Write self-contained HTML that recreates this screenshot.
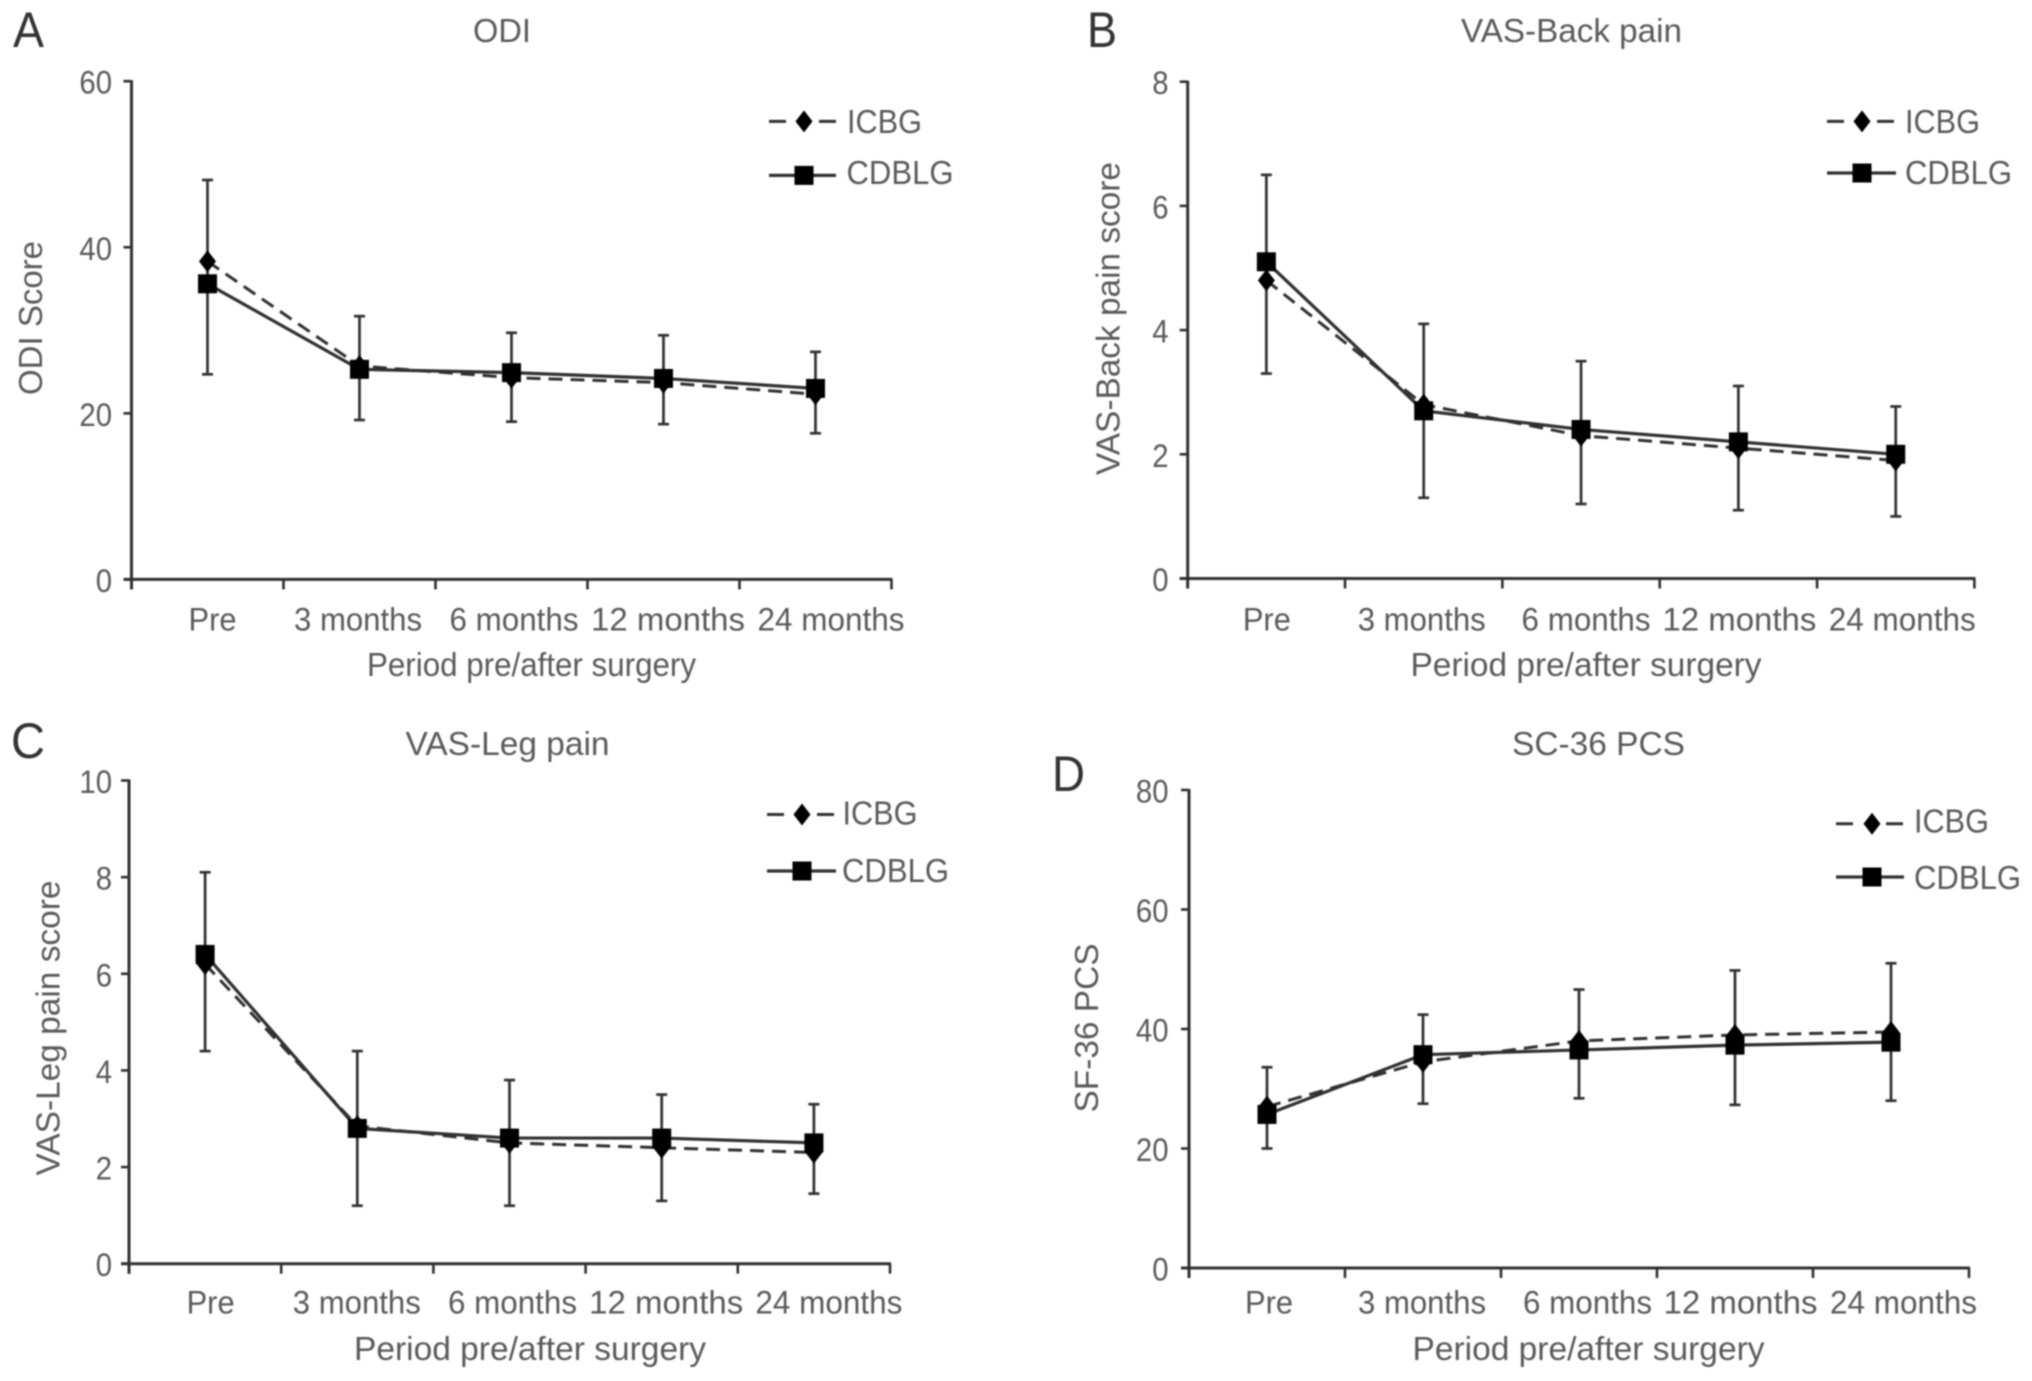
<!DOCTYPE html>
<html lang="en">
<head>
<meta charset="utf-8">
<title>Outcome scores before and after surgery</title>
<style>
  html, body { margin: 0; padding: 0; background: #fff; }
  body { width: 2032px; height: 1381px; overflow: hidden; }
  svg { display: block; filter: blur(0.7px); }
  text { font-family: "Liberation Sans", sans-serif; fill: #5a5a5a; }
  .panel-letter { font-size: 50px; fill: #333; }
  .chart-title { font-size: 33px; text-anchor: middle; }
  .axis-title { font-size: 33px; text-anchor: middle; }
  .legend-label { font-size: 33px; }
  .tick { font-size: 32px; }
</style>
</head>
<body>
<svg id="figure" xmlns="http://www.w3.org/2000/svg" width="2032" height="1381" viewBox="0 0 2032 1381">
  <rect width="2032" height="1381" fill="#fff"/>

  <g id="panel-a">
    <text class="panel-letter" x="13" y="47" textLength="31" lengthAdjust="spacingAndGlyphs">A</text>
    <text class="chart-title" x="502" y="42" textLength="58" lengthAdjust="spacingAndGlyphs">ODI</text>
    <text class="axis-title" transform="translate(42,318) rotate(-90)" textLength="154" lengthAdjust="spacingAndGlyphs">ODI Score</text>
    <text class="axis-title" x="531.5" y="676" textLength="329" lengthAdjust="spacingAndGlyphs">Period pre/after surgery</text>
    <text class="legend-label" x="847" y="133" textLength="75" lengthAdjust="spacingAndGlyphs">ICBG</text>
    <text class="legend-label" x="846.5" y="184" textLength="107" lengthAdjust="spacingAndGlyphs">CDBLG</text>
  </g>

  <g id="panel-b">
    <text class="panel-letter" x="1087" y="47" textLength="30" lengthAdjust="spacingAndGlyphs">B</text>
    <text class="chart-title" x="1571.5" y="42" textLength="221" lengthAdjust="spacingAndGlyphs">VAS-Back pain</text>
    <text class="axis-title" transform="translate(1119.5,318.5) rotate(-90)" textLength="313" lengthAdjust="spacingAndGlyphs">VAS-Back pain score</text>
    <text class="axis-title" x="1586" y="676" textLength="351" lengthAdjust="spacingAndGlyphs">Period pre/after surgery</text>
    <text class="legend-label" x="1905" y="133" textLength="75" lengthAdjust="spacingAndGlyphs">ICBG</text>
    <text class="legend-label" x="1905" y="184" textLength="107" lengthAdjust="spacingAndGlyphs">CDBLG</text>
  </g>

  <g id="panel-c">
    <text class="panel-letter" x="11" y="758" textLength="34" lengthAdjust="spacingAndGlyphs">C</text>
    <text class="chart-title" x="507.5" y="755" textLength="204" lengthAdjust="spacingAndGlyphs">VAS-Leg pain</text>
    <text class="axis-title" transform="translate(59.5,1028) rotate(-90)" textLength="295" lengthAdjust="spacingAndGlyphs">VAS-Leg pain score</text>
    <text class="axis-title" x="530" y="1360" textLength="352" lengthAdjust="spacingAndGlyphs">Period pre/after surgery</text>
    <text class="legend-label" x="842.5" y="824.5" textLength="75" lengthAdjust="spacingAndGlyphs">ICBG</text>
    <text class="legend-label" x="842" y="882" textLength="107" lengthAdjust="spacingAndGlyphs">CDBLG</text>
  </g>

  <g id="panel-d">
    <text class="panel-letter" x="1052" y="791" textLength="33" lengthAdjust="spacingAndGlyphs">D</text>
    <text class="chart-title" x="1598.5" y="755" textLength="173" lengthAdjust="spacingAndGlyphs">SC-36 PCS</text>
    <text class="axis-title" transform="translate(1098,1028) rotate(-90)" textLength="169" lengthAdjust="spacingAndGlyphs">SF-36 PCS</text>
    <text class="axis-title" x="1588.5" y="1360" textLength="352" lengthAdjust="spacingAndGlyphs">Period pre/after surgery</text>
    <text class="legend-label" x="1914" y="832.5" textLength="75" lengthAdjust="spacingAndGlyphs">ICBG</text>
    <text class="legend-label" x="1914" y="889" textLength="107" lengthAdjust="spacingAndGlyphs">CDBLG</text>
  </g>
</svg>

<script>
// Chart data
const categories = ['Pre', '3 months', '6 months', '12 months', '24 months'];

const odiTicks = [0, 20, 40, 60];
const odiIcbg = [38.3, 25.7, 24.3, 23.7, 22.3];
const odiCdblg = [35.6, 25.3, 24.9, 24.2, 23.0];
const odiErrHigh = [48.1, 31.7, 29.7, 29.4, 27.4];
const odiErrLow = [24.7, 19.2, 19.0, 18.7, 17.6];

const backTicks = [0, 2, 4, 6, 8];
const backIcbg = [4.8, 2.8, 2.3, 2.1, 1.9];
const backCdblg = [5.1, 2.7, 2.4, 2.2, 2.0];
const backErrHigh = [6.5, 4.1, 3.5, 3.1, 2.77];
const backErrLow = [3.3, 1.3, 1.2, 1.1, 1.0];

const legTicks = [0, 2, 4, 6, 8, 10];
const legIcbg = [6.2, 2.85, 2.5, 2.4, 2.3];
const legCdblg = [6.4, 2.8, 2.6, 2.6, 2.5];
const legErrHigh = [8.1, 4.4, 3.8, 3.5, 3.3];
const legErrLow = [4.4, 1.2, 1.2, 1.3, 1.45];

const pcsTicks = [0, 20, 40, 60, 80];
const pcsIcbg = [27.0, 34.5, 38.0, 39.0, 39.5];
const pcsCdblg = [25.7, 35.7, 36.5, 37.3, 37.8];
const pcsErrHigh = [33.6, 42.4, 46.6, 49.8, 51.0];
const pcsErrLow = [20.0, 27.5, 28.4, 27.3, 28.0];

// Per-panel layout (plot frame, legend keys, label placement)
const labelWidths = [48, 128, 129, 154, 147];
const panels = [
  { id: 'panel-a', key: 'odi', ticks: odiTicks, icbg: odiIcbg, cdblg: odiCdblg, hi: odiErrHigh, lo: odiErrLow,
    left: 131.5, right: 891.5, top: 81.2, bottom: 579.4, labelY: 630.5, tickRight: 112,
    labelShift: [5, -1.5, 2.5, 4.5, 15.5],
    legendX0: 769, legendX1: 836, legendMid: 804, legendY0: 121.4, legendY1: 175.4 },
  { id: 'panel-b', key: 'vas-back', ticks: backTicks, icbg: backIcbg, cdblg: backCdblg, hi: backErrHigh, lo: backErrLow,
    left: 1187.7, right: 1974.4, top: 81.7, bottom: 578.5, labelY: 630.5, tickRight: 1168.5,
    labelShift: [0.5, -2, 5, 1, 6.5],
    legendX0: 1827, legendX1: 1896, legendMid: 1862, legendY0: 121.4, legendY1: 173 },
  { id: 'panel-c', key: 'vas-leg', ticks: legTicks, icbg: legIcbg, cdblg: legCdblg, hi: legErrHigh, lo: legErrLow,
    left: 129, right: 890, top: 780.5, bottom: 1263.7, labelY: 1313.5, tickRight: 112,
    labelShift: [5.5, -0.5, 3, 4.5, 15],
    legendX0: 767, legendX1: 836, legendMid: 802, legendY0: 814.5, legendY1: 871 },
  { id: 'panel-d', key: 'sf-36-pcs', ticks: pcsTicks, icbg: pcsIcbg, cdblg: pcsCdblg, hi: pcsErrHigh, lo: pcsErrLow,
    left: 1189, right: 1969, top: 790, bottom: 1268, labelY: 1313.5, tickRight: 1168.5,
    labelShift: [2, -1, 8.5, 5.5, 12.5],
    legendX0: 1836, legendX1: 1904, legendMid: 1872, legendY0: 823.8, legendY1: 877 }
];

const SVG_NS = 'http://www.w3.org/2000/svg';
const INK = '#303030';

function make(tag, attrs, parent) {
  const el = document.createElementNS(SVG_NS, tag);
  for (const k in attrs) el.setAttribute(k, attrs[k]);
  parent.appendChild(el);
  return el;
}

function seg(parent, x1, y1, x2, y2, width, dash) {
  const a = { x1: x1, y1: y1, x2: x2, y2: y2, stroke: INK, 'stroke-width': width };
  if (dash) a['stroke-dasharray'] = dash;
  return make('line', a, parent);
}

function drawDiamond(parent, cx, cy) {
  return make('polygon', {
    points: [cx, cy - 11, cx + 8.5, cy, cx, cy + 11, cx - 8.5, cy].join(','),
    fill: '#000'
  }, parent);
}

function drawSquare(parent, cx, cy) {
  return make('rect', { x: cx - 9.5, y: cy - 9.5, width: 19, height: 19, fill: '#000' }, parent);
}

function drawPanel(p) {
  const root = document.getElementById(p.id);
  const maxTick = p.ticks[p.ticks.length - 1];
  const band = (p.right - p.left) / categories.length;
  const xScale = i => p.left + band * (i + 0.5);
  const yScale = v => p.bottom - (v / maxTick) * (p.bottom - p.top);

  // Axes
  const yAxis = seg(root, p.left, p.top - 1, p.left, p.bottom + 10, 3);
  
  
  const xAxis = seg(root, p.left - 8, p.bottom, p.right + 1, p.bottom, 3);
  
  

  p.ticks.forEach(t => {
    const y = yScale(t);
    const mark = seg(root, p.left - 8, y, p.left, y, 2.6);
    
    
    const chars = String(t).length;
    const lab = make('text', {
      class: 'tick', x: p.tickRight, y: y + 12.5, 'text-anchor': 'end',
      textLength: chars * 16.3, lengthAdjust: 'spacingAndGlyphs'
    }, root);
    lab.textContent = String(t);
    
    
  });

  for (let i = 0; i <= categories.length; i++) {
    const x = p.left + band * i;
    const mark = seg(root, x, p.bottom, x, p.bottom + 10, 2.6);
    
    
  }

  categories.forEach((c, i) => {
    const lab = make('text', {
      class: 'tick', x: xScale(i) + p.labelShift[i], y: p.labelY, 'text-anchor': 'middle',
      textLength: labelWidths[i], lengthAdjust: 'spacingAndGlyphs'
    }, root);
    lab.textContent = c;
    
    
  });

  // Error bars
  categories.forEach((c, i) => {
    const x = xScale(i);
    const hi = yScale(p.hi[i]);
    const lo = yScale(p.lo[i]);
    const bar = make('g', {}, root);
    
    
    seg(bar, x, hi, x, lo, 2.7);
    seg(bar, x - 5.5, hi, x + 5.5, hi, 2.7);
    seg(bar, x - 5.5, lo, x + 5.5, lo, 2.7);
  });

  // Series lines
  const pointsOf = vals => vals.map((v, i) => xScale(i) + ',' + yScale(v)).join(' ');
  const dashLine = make('polyline', {
    points: pointsOf(p.icbg), fill: 'none', stroke: INK, 'stroke-width': 3, 'stroke-dasharray': '14 8'
  }, root);
  
  

  const solidLine = make('polyline', {
    points: pointsOf(p.cdblg), fill: 'none', stroke: INK, 'stroke-width': 3.2
  }, root);
  
  

  // Markers
  p.icbg.forEach((v, i) => {
    const m = drawDiamond(root, xScale(i), yScale(v));
    
    
  });
  p.cdblg.forEach((v, i) => {
    const m = drawSquare(root, xScale(i), yScale(v));
    
    
  });

  // Legend keys
  const k1 = seg(root, p.legendX0, p.legendY0, p.legendX1, p.legendY0, 3, '17 33 17');
  
  
  const d = drawDiamond(root, p.legendMid, p.legendY0);
  
  
  const k2 = seg(root, p.legendX0, p.legendY1, p.legendX1, p.legendY1, 3.2);
  
  
  const s = drawSquare(root, p.legendMid, p.legendY1);
  
  
}

panels.forEach(drawPanel);
</script>
</body>
</html>
